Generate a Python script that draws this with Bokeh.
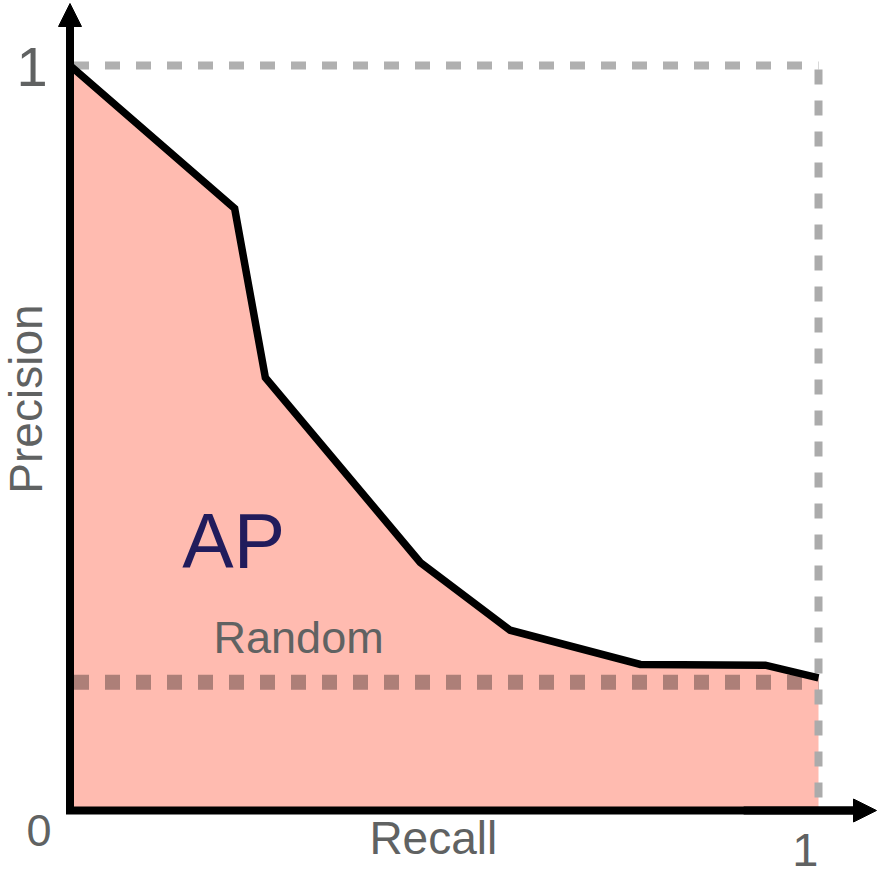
import math
from bokeh.plotting import figure
from bokeh.models import Range1d, Arrow, NormalHead
from bokeh.core.properties import value
from bokeh.embed import file_html
from bokeh.resources import INLINE

# Data
recall = [0.0, 0.220, 0.261, 0.468, 0.588, 0.762, 0.929, 1.0]
precision = [1.0, 0.808, 0.581, 0.333, 0.242, 0.196, 0.195, 0.178]
random_precision = 0.172
x_label = "Recall"
y_label = "Precision"
tick_labels = ["0", "1", "1"]

FONT = "Liberation Sans"
GRAY_TXT = "#606262"

p = figure(width=880, height=885, output_backend="svg", toolbar_location=None,
           x_range=Range1d(-69.5 / 748.5, (880 - 69.5) / 748.5),
           y_range=Range1d(-75 / 745, 810 / 745),
           min_border=0)
p.axis.visible = False
p.grid.visible = False
p.outline_line_color = None
p.background_fill_color = "white"
p.border_fill_color = "white"

# Area under curve
px = recall + [recall[-1], 0.0]
py = precision + [0.0, 0.0]
p.patch(px, py, fill_color="#FFBBB0", line_color=None)

# Bounding dashed lines
p.line([0.0, 1.0], [1.0, 1.0], line_color="#B0B0B0", line_width=8, line_dash="15 16", line_dash_offset=-4)
p.line([1.0, 1.0], [1.0, 0.0], line_color="#ABABAB", line_width=8, line_dash="15 16", line_dash_offset=-4)

# Random baseline
p.line([0.0, 1.0], [random_precision, random_precision], line_color="#AD7F78",
       line_width=15, line_dash="15 16", line_dash_offset=-4)

# PR curve
p.line(recall, precision, line_color="black", line_width=7.5, line_join="miter")

# Axes
p.line([0.0, 0.0, 1.05], [1.06, 0.0, 0.0], line_color="black", line_width=8, line_join="miter")
p.add_layout(Arrow(end=NormalHead(size=23, fill_color="black", line_color="black", line_width=1),
                   x_start=0.0, y_start=0.9, x_end=0.0, y_end=807 / 745,
                   line_color="black", line_width=8))
p.add_layout(Arrow(end=NormalHead(size=23, fill_color="black", line_color="black", line_width=1),
                   x_start=0.9, y_start=0.0, x_end=(876 - 69.5) / 748.5, y_end=0.0,
                   line_color="black", line_width=8))

# Texts
p.text(x=[-0.0715], y=[0.9976], text=[tick_labels[1]], text_font=value(FONT),
       text_font_size="56px", text_color=GRAY_TXT, text_baseline="alphabetic", text_align="left")
p.text(x=[-0.058], y=[-0.0267], text=[tick_labels[0]], text_font=value(FONT),
       text_font_size="45px", text_color=GRAY_TXT, text_baseline="alphabetic", text_align="left")
p.text(x=[0.965], y=[-0.0525], text=[tick_labels[2]], text_font=value(FONT),
       text_font_size="47px", text_color=GRAY_TXT, text_baseline="alphabetic", text_align="left")
p.text(x=[0.400], y=[-0.0369], text=[x_label], text_font=value(FONT),
       text_font_size="46px", text_color=GRAY_TXT, text_baseline="alphabetic", text_align="left")
p.text(x=[-0.0588], y=[0.5523], text=[y_label], angle=math.pi / 2, text_font=value(FONT),
       text_font_size="46px", text_color=GRAY_TXT, text_baseline="alphabetic", text_align="center")
p.text(x=[0.150], y=[0.3613], text=["AP"], text_font=value(FONT),
       text_font_size="77px", text_color="#211C5C", text_baseline="alphabetic", text_align="left")
p.text(x=[0.1918], y=[0.2324], text=["Random"], text_font=value(FONT),
       text_font_size="45px", text_color=GRAY_TXT, text_baseline="alphabetic", text_align="left")

open("out.html", "w").write(file_html(p, INLINE))
